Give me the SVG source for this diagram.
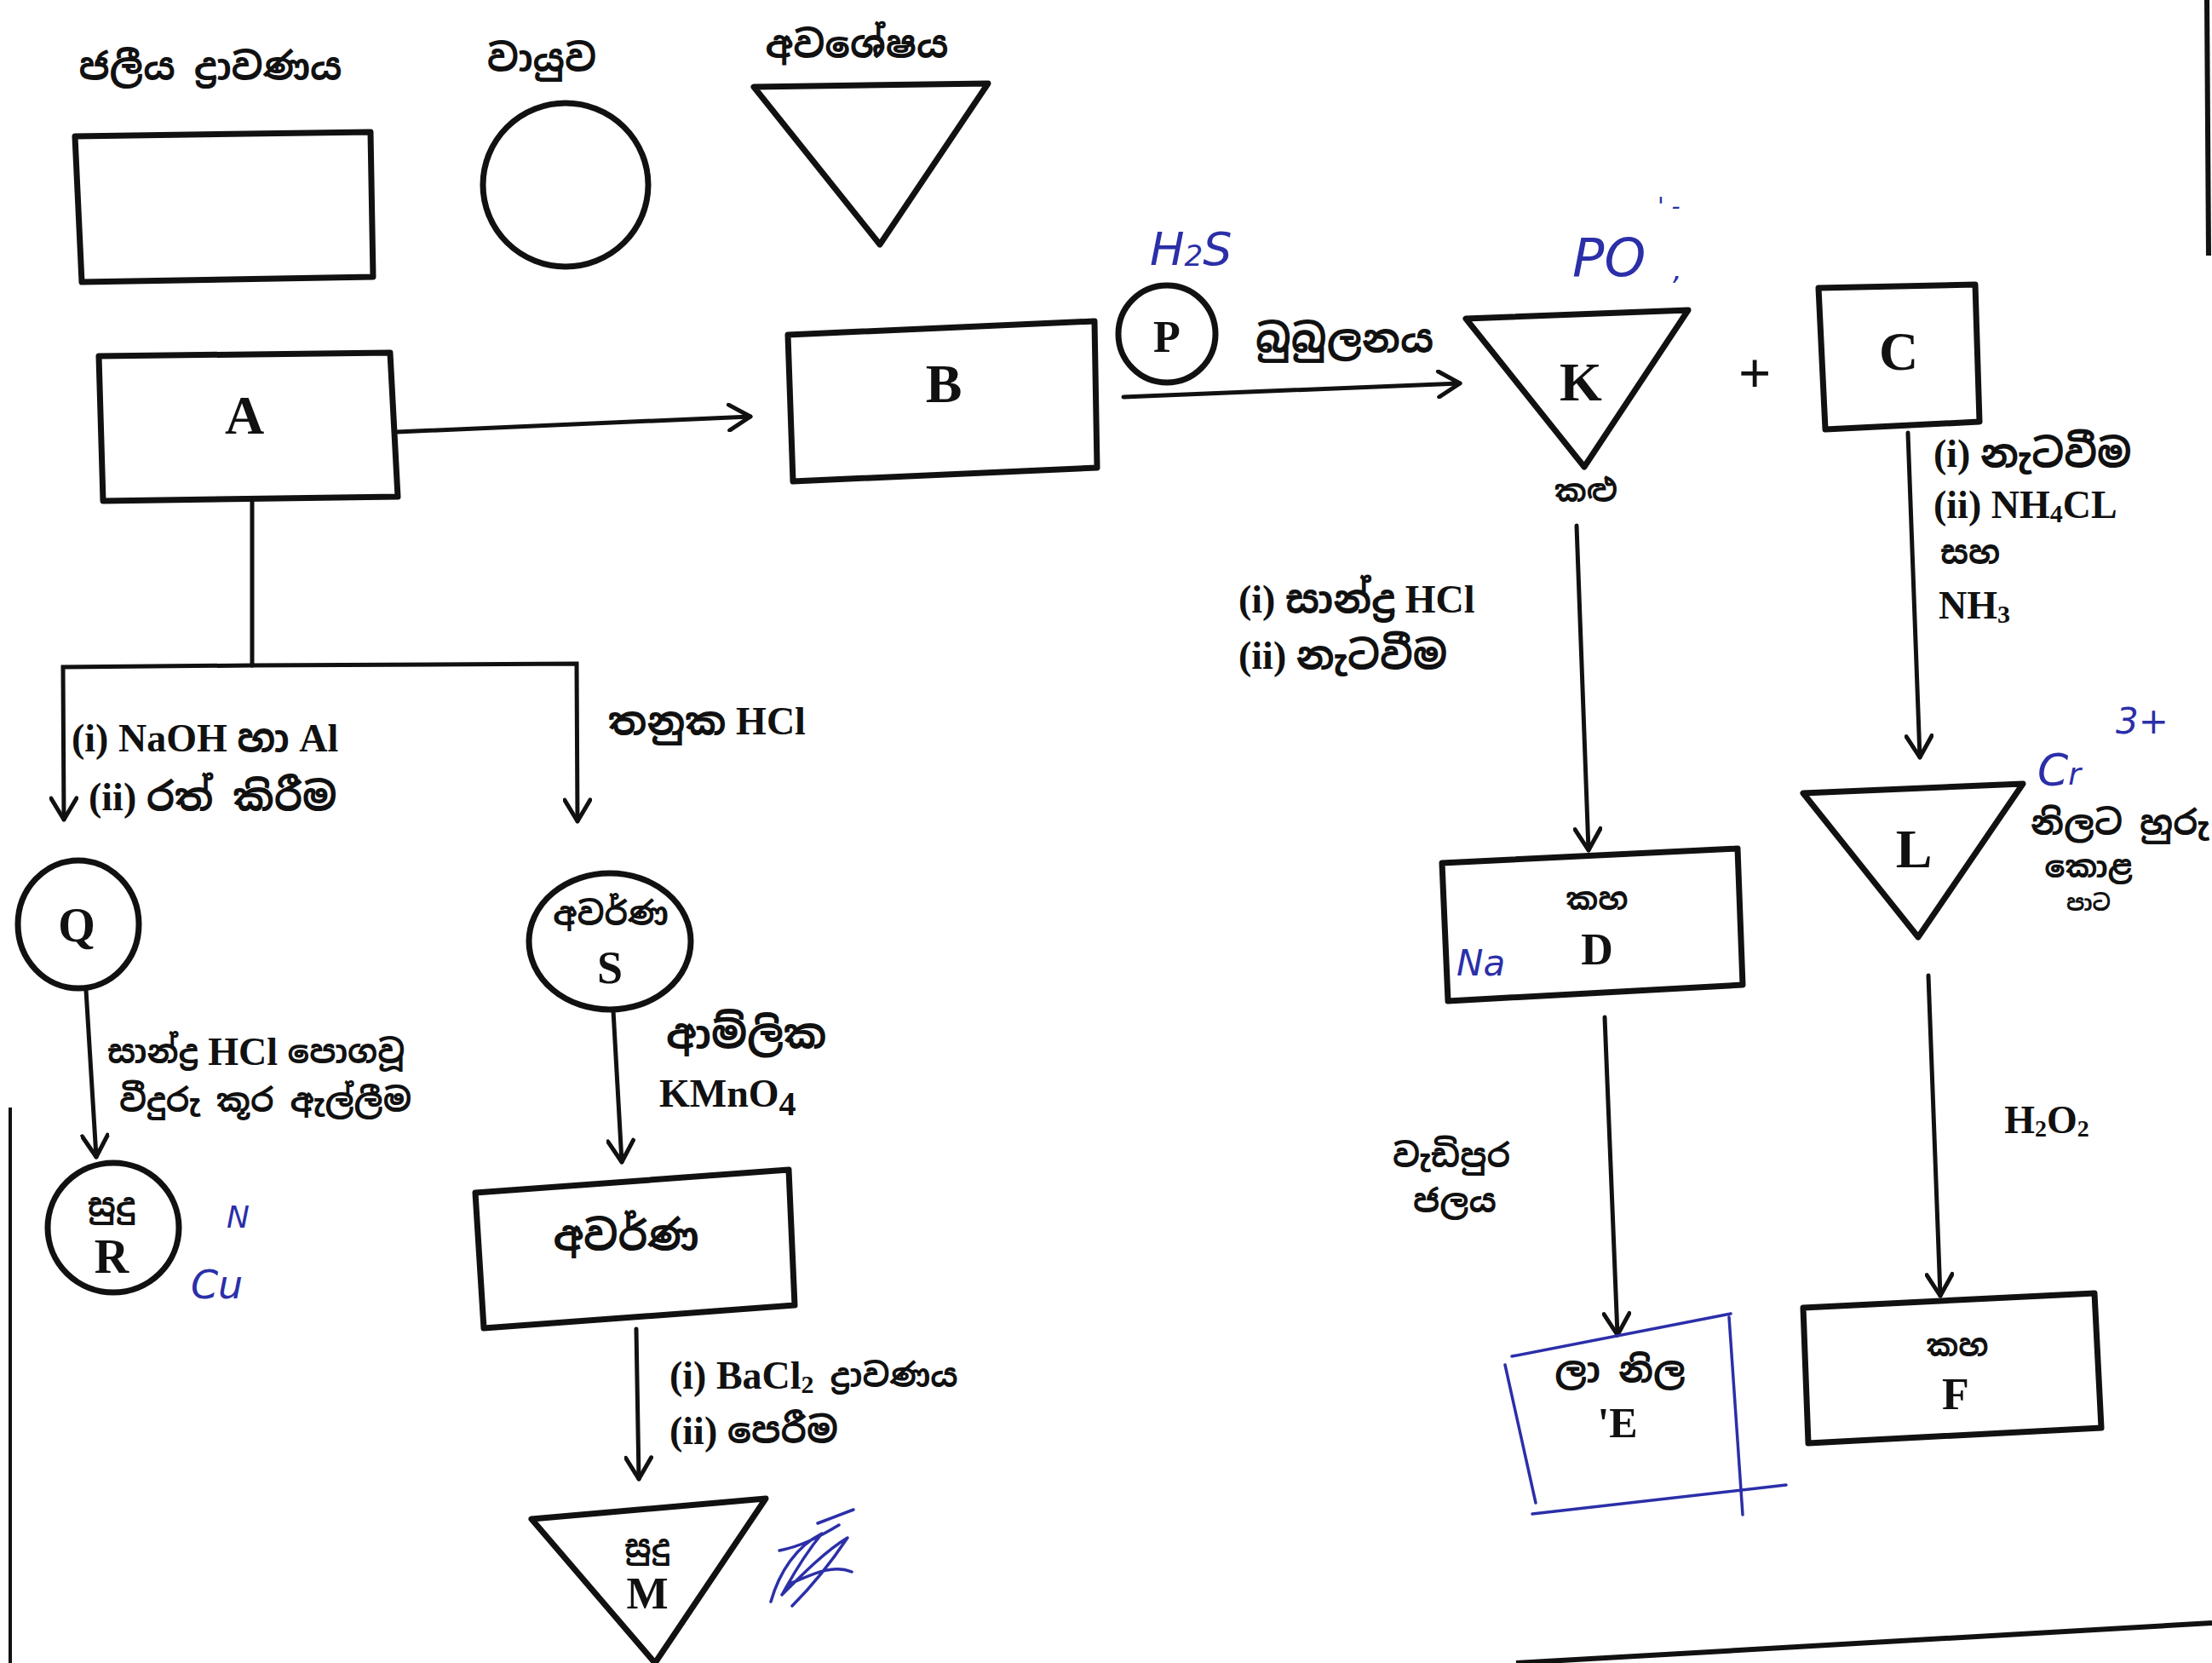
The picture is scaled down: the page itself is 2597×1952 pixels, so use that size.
<svg xmlns="http://www.w3.org/2000/svg" width="2597" height="1952" viewBox="0 0 2597 1952">
<style>
.shape{fill:none;stroke:#111;stroke-width:7;stroke-linejoin:round}
.conn{fill:none;stroke:#111;stroke-width:5;stroke-linecap:round}
.lbl{font-family:"Liberation Serif","Noto Serif Sinhala","Noto Sans Sinhala",serif;font-weight:bold;fill:#111;text-anchor:middle;dominant-baseline:central}
.big{font-size:64px}
.txt{font-family:"Liberation Serif","Noto Serif Sinhala","Noto Sans Sinhala",serif;font-weight:bold;fill:#111;font-size:46px;dominant-baseline:central}
.si{font-family:"Noto Sans Sinhala","Noto Serif Sinhala","Liberation Sans",sans-serif;font-weight:bold;fill:#111;dominant-baseline:central}
.hand{font-family:"DejaVu Sans",sans-serif;fill:#2b2fa8;font-style:italic;dominant-baseline:central}
.ink{fill:none;stroke:#2b2fa8;stroke-width:3.5;stroke-linecap:round;stroke-linejoin:round}
</style>
<defs>
<marker id="arr" viewBox="-28 -17 32 34" markerWidth="32" markerHeight="34" refX="0" refY="0" orient="auto" markerUnits="userSpaceOnUse">
<path d="M-25,-15 L0,0 L-25,15" fill="none" stroke="#111" stroke-width="5" stroke-linecap="round" stroke-linejoin="round"/>
</marker>
</defs>
<rect width="2597" height="1952" fill="#fff"/>

<!-- page borders -->
<g id="borders">
<line x1="12" y1="1300" x2="12" y2="1952" stroke="#111" stroke-width="4"/>
<line x1="2591" y1="0" x2="2593" y2="300" stroke="#111" stroke-width="6"/>
<line x1="1780" y1="1952" x2="2597" y2="1905" stroke="#111" stroke-width="6"/>
</g>

<!-- legend -->
<g id="legend">
<text class="si" x="247" y="78" font-size="44" text-anchor="middle">ජලීය ද්‍රාවණය</text>
<text class="si" x="636" y="68" font-size="44" text-anchor="middle">වායුව</text>
<text class="si" x="1006" y="52" font-size="44" text-anchor="middle">අවශේෂය</text>
<polygon class="shape" points="88,160 435,155 438,325 96,331" stroke-width="8"/>
<ellipse class="shape" cx="664" cy="217" rx="97" ry="96"/>
<polygon class="shape" points="885,102 1160,98 1033,287"/>
</g>

<!-- connectors -->
<g id="connectors">
<path class="conn" d="M466,507 L881,489" marker-end="url(#arr)"/>
<path class="conn" d="M296,588 L296,781"/>
<path class="conn" d="M296,781 L74,783 L75,962" marker-end="url(#arr)"/>
<path class="conn" d="M296,781 L677,779 L678,964" marker-end="url(#arr)"/>
<path class="conn" d="M1319,466 L1714,450" marker-end="url(#arr)"/>
<path class="conn" d="M1851,617 L1865,998" marker-end="url(#arr)"/>
<path class="conn" d="M2240,508 L2254,889" marker-end="url(#arr)"/>
<path class="conn" d="M1884,1194 L1899,1567" marker-end="url(#arr)"/>
<path class="conn" d="M2264,1145 L2278,1521" marker-end="url(#arr)"/>
<path class="conn" d="M101,1162 L113,1358" marker-end="url(#arr)"/>
<path class="conn" d="M720,1186 L730,1364" marker-end="url(#arr)"/>
<path class="conn" d="M747,1560 L750,1736" marker-end="url(#arr)"/>
</g>

<!-- edge labels -->
<g id="labels">
<text class="si" x="1474" y="397" font-size="46">බුබුලනය</text>
<text class="txt" x="1454" y="703" font-size="48">(i) <tspan class="si">සාන්ද්‍ර</tspan> HCl</text>
<text class="txt" x="1454" y="769">(ii) <tspan class="si">නැටවීම</tspan></text>
<text class="txt" x="2270" y="532">(i) <tspan class="si">නැටවීම</tspan></text>
<text class="txt" x="2270" y="592" font-size="50">(ii) NH<tspan font-size="30" dy="10">4</tspan><tspan dy="-10">CL</tspan></text>
<text class="si" x="2278" y="648" font-size="38">සහ</text>
<text class="txt" x="2276" y="710" font-size="50">NH<tspan font-size="30" dy="10">3</tspan></text>
<text class="si" x="2384" y="966" font-size="40">නිලට හුරු</text>
<text class="si" x="2452" y="1017" font-size="36" text-anchor="middle">කොළ</text>
<text class="si" x="2452" y="1060" font-size="26" text-anchor="middle">පාට</text>
<text class="txt" x="2403" y="1314" text-anchor="middle">H<tspan font-size="28" dy="10">2</tspan><tspan dy="-10">O</tspan><tspan font-size="28" dy="10">2</tspan></text>
<text class="si" x="1704" y="1356" font-size="38" text-anchor="middle">වැඩිපුර</text>
<text class="si" x="1708" y="1409" font-size="38" text-anchor="middle">ජලය</text>
<text class="txt" x="84" y="866" font-size="50">(i) NaOH <tspan class="si">හා</tspan> Al</text>
<text class="txt" x="104" y="935">(ii) <tspan class="si">රත් කිරීම</tspan></text>
<text class="txt" x="714" y="846" font-size="50"><tspan class="si">තනුක</tspan> HCl</text>
<text class="txt" x="126" y="1234"><tspan class="si" font-size="38">සාන්ද්‍ර</tspan> HCl <tspan class="si" font-size="38">පොගවූ</tspan></text>
<text class="si" x="140" y="1291" font-size="38">වීදුරු කූර ඇල්ලීම</text>
<text class="si" x="782" y="1212" font-size="48">ආම්ලික</text>
<text class="txt" x="774" y="1283" font-size="64">KMnO<tspan font-size="40" dy="12">4</tspan></text>
<text class="txt" x="786" y="1614" font-size="50">(i) BaCl<tspan font-size="30" dy="10">2</tspan><tspan dy="-10" class="si" font-size="38"> ද්‍රාවණය</tspan></text>
<text class="txt" x="786" y="1679" font-size="50">(ii) <tspan class="si" font-size="42">පෙරීම</tspan></text>
</g>

<!-- nodes -->
<g id="node-A">
<polygon class="shape" points="116,418 458,414 467,583 121,588"/>
<text class="lbl big" x="287" y="487">A</text>
</g>
<g id="node-B">
<polygon class="shape" points="925,393 1285,377 1288,549 931,565"/>
<text class="lbl big" x="1108" y="450">B</text>
</g>
<g id="node-P">
<circle class="shape" cx="1370" cy="392" r="57" stroke-width="6"/>
<text class="lbl" x="1370" y="395" font-size="52">P</text>
</g>
<g id="node-K">
<polygon class="shape" points="1721,374 1982,364 1860,548"/>
<text class="lbl big" x="1856" y="448" font-size="66">K</text>
<text class="si" x="1862" y="576" font-size="36" text-anchor="middle">කළු</text>
</g>
<g id="plus"><text class="lbl" x="2060" y="438" font-size="68">+</text></g>
<g id="node-C">
<polygon class="shape" points="2135,338 2319,334 2324,495 2143,504"/>
<text class="lbl big" x="2229" y="412">C</text>
</g>
<g id="node-L">
<polygon class="shape" points="2117,931 2375,920 2252,1100"/>
<text class="lbl big" x="2247" y="996">L</text>
</g>
<g id="node-D">
<polygon class="shape" points="1693,1013 2040,996 2046,1156 1700,1175"/>
<text class="si" x="1875" y="1055" font-size="36" text-anchor="middle">කහ</text>
<text class="lbl" x="1875" y="1114" font-size="52">D</text>
</g>
<g id="node-E">
<text class="si" x="1902" y="1608" font-size="42" text-anchor="middle">ලා නිල</text>
<text class="lbl" x="1899" y="1670" font-size="50">'E</text>
</g>
<g id="node-F">
<polygon class="shape" points="2117,1535 2459,1518 2467,1676 2123,1694"/>
<text class="si" x="2298" y="1579" font-size="36" text-anchor="middle">කහ</text>
<text class="lbl" x="2296" y="1636" font-size="52">F</text>
</g>
<g id="node-Q">
<ellipse class="shape" cx="92" cy="1085" rx="71" ry="75" stroke-width="6"/>
<text class="lbl" x="90" y="1086" font-size="56">Q</text>
</g>
<g id="node-R">
<ellipse class="shape" cx="133" cy="1441" rx="77" ry="76" stroke-width="6"/>
<text class="si" x="131" y="1414" font-size="38" text-anchor="middle">සුදු</text>
<text class="lbl" x="131" y="1475" font-size="56">R</text>
</g>
<g id="node-S">
<ellipse class="shape" cx="716" cy="1105" rx="95" ry="80" stroke-width="6"/>
<text class="si" x="717" y="1072" font-size="38" text-anchor="middle">අවර්ණ</text>
<text class="lbl" x="716" y="1136" font-size="54">S</text>
</g>
<g id="node-colourless">
<polygon class="shape" points="558,1400 926,1373 933,1532 568,1559"/>
<text class="si" x="735" y="1449" font-size="48" text-anchor="middle">අවර්ණ</text>
</g>
<g id="node-M">
<polygon class="shape" points="624,1783 899,1759 769,1952"/>
<text class="si" x="760" y="1815" font-size="36" text-anchor="middle">සුදු</text>
<text class="lbl" x="760" y="1870" font-size="52">M</text>
</g>

<!-- handwritten annotations -->
<g id="handwriting">
<text class="hand" x="1350" y="292" font-size="54">H<tspan font-size="34" dy="8">2</tspan><tspan dy="-8">S</tspan></text>
<text class="hand" x="1846" y="302" font-size="62">PO</text>
<text class="hand" x="1964" y="316" font-size="34">,</text>
<text class="hand" x="1946" y="242" font-size="28">' -</text>
<text class="hand" x="2392" y="904" font-size="52">C<tspan font-size="36" dy="4">r</tspan></text>
<text class="hand" x="2484" y="846" font-size="42">3+</text>
<text class="hand" x="1710" y="1130" font-size="42">Na</text>
<text class="hand" x="266" y="1428" font-size="36">N</text>
<text class="hand" x="224" y="1508" font-size="46">Cu</text>
<path class="ink" d="M905,1880 C915,1845 935,1815 965,1800 C940,1830 925,1860 918,1872 C945,1845 970,1820 995,1805 C975,1835 955,1860 930,1885 M925,1860 C950,1850 975,1835 1000,1845 M960,1788 L1002,1772 M915,1820 C940,1815 960,1805 985,1790"/>
<path class="ink" d="M1775,1592 L2032,1542 M1767,1602 L1803,1764 M1799,1777 L2097,1743 M2030,1546 L2046,1778"/>
</g>
</svg>
